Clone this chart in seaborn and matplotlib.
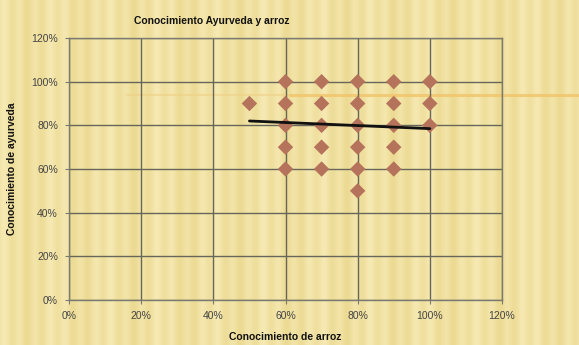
import numpy as np
import pandas as pd
import matplotlib
matplotlib.use("Agg")
import matplotlib.pyplot as plt
import seaborn as sns
from matplotlib.ticker import PercentFormatter

# Survey responses: knowledge of rice (x) vs. knowledge of ayurveda (y)
arroz = [0.5,
         0.6, 0.6, 0.6, 0.6, 0.6,
         0.7, 0.7, 0.7, 0.7, 0.7,
         0.8, 0.8, 0.8, 0.8, 0.8, 0.8,
         0.9, 0.9, 0.9, 0.9, 0.9,
         1.0, 1.0, 1.0]
ayurveda = [0.9,
            1.0, 0.9, 0.8, 0.7, 0.6,
            1.0, 0.9, 0.8, 0.7, 0.6,
            1.0, 0.9, 0.8, 0.7, 0.6, 0.5,
            1.0, 0.9, 0.8, 0.7, 0.6,
            1.0, 0.9, 0.8]

# Linear trend line endpoints
trend_x = [0.5, 1.0]
trend_y = [0.82, 0.785]

x_ticks = [0, 0.2, 0.4, 0.6, 0.8, 1.0, 1.2]
y_ticks = [0, 0.2, 0.4, 0.6, 0.8, 1.0, 1.2]

title = "Conocimiento Ayurveda y arroz"
xlabel = "Conocimiento de arroz"
ylabel = "Conocimiento de ayurveda"

sns.set_style("white")
plt.rcParams["font.family"] = ["Liberation Sans", "DejaVu Sans"]

fig = plt.figure(figsize=(5.79, 3.45), dpi=100)

# Striped parchment-style background
bg = fig.add_axes([0, 0, 1, 1], zorder=-10)
cols = np.arange(579)
stripe = (0.5 + 0.5 * np.sin(cols / 579 * 2 * np.pi * 38)) * 0.6 \
         + (0.5 + 0.5 * np.sin(cols / 579 * 2 * np.pi * 11 + 1.3)) * 0.4
base = np.array([0.925, 0.855, 0.575])
light = np.array([0.965, 0.915, 0.700])
img = base[None, None, :] + (light - base)[None, None, :] * stripe[None, :, None]
img = np.repeat(img, 345, axis=0)
bg.imshow(img, aspect="auto", extent=[0, 1, 0, 1])
bg.plot([0.22, 0.5], [0.725, 0.725], color="#efcf86", lw=1.5, alpha=0.6)
bg.plot([0.5, 1.0], [0.725, 0.725], color="#f2c46a", lw=2.2, alpha=0.8)
bg.set_xlim(0, 1)
bg.set_ylim(0, 1)
bg.axis("off")

ax = fig.add_axes([0.1192, 0.1304, 0.7478, 0.7594])
ax.patch.set_alpha(0)

df = pd.DataFrame({"arroz": arroz, "ayurveda": ayurveda})
sns.scatterplot(data=df, x="arroz", y="ayurveda", ax=ax, marker="D", s=62,
                color="#b5735c", edgecolor="none", zorder=3)
sns.lineplot(x=trend_x, y=trend_y, ax=ax, color="#111111", lw=2, zorder=4)

ax.set_xlim(0, 1.2)
ax.set_ylim(0, 1.2)
ax.set_xticks(x_ticks)
ax.set_yticks(y_ticks)
ax.xaxis.set_major_formatter(PercentFormatter(1.0, decimals=0))
ax.yaxis.set_major_formatter(PercentFormatter(1.0, decimals=0))
ax.grid(True, color="#66665a", lw=1)
ax.set_axisbelow(True)
for s in ax.spines.values():
    s.set_color("#7a7a70")
    s.set_linewidth(1)
ax.tick_params(axis="both", labelsize=7.5, colors="#7a7a70", labelcolor="#444444",
               length=3, direction="out", bottom=True, left=True, pad=5)

ax.set_xlabel(xlabel, fontsize=7.5, fontweight="bold", color="#111111", labelpad=8)
ax.set_ylabel(ylabel, fontsize=7.5, fontweight="bold", color="#111111", labelpad=10)
fig.text(0.365, 0.94, title, fontsize=7.5, fontweight="bold", color="#111111",
         ha="center", va="center")

fig.savefig("out.png", dpi=100)
